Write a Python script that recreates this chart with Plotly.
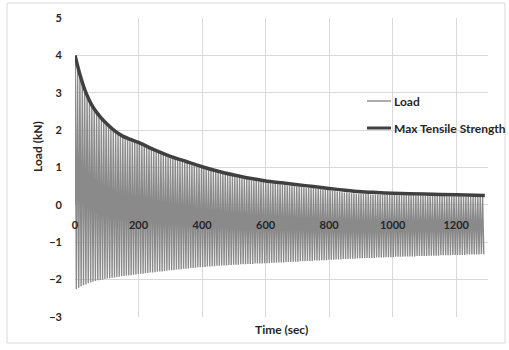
import plotly.graph_objects as go

# Cyclic loading test: per-cycle peak / trough loads (kN), one cycle every 7.5 s
CYCLE_SEC = 7.5

cycle_peak_kN = [
    3.98, 3.70, 3.46, 3.26, 3.07, 2.92, 2.77, 2.65, 2.54, 2.46,
    2.37, 2.29, 2.22, 2.16, 2.10, 2.04, 1.99, 1.94, 1.89, 1.85,
    1.81, 1.78, 1.75, 1.73, 1.70, 1.68, 1.65, 1.63, 1.60, 1.57,
    1.54, 1.51, 1.48, 1.45, 1.42, 1.40, 1.37, 1.34, 1.32, 1.29,
    1.27, 1.25, 1.23, 1.20, 1.18, 1.16, 1.14, 1.12, 1.10, 1.08,
    1.05, 1.03, 1.01, 0.99, 0.97, 0.95, 0.93, 0.91, 0.90, 0.88,
    0.86, 0.84, 0.83, 0.81, 0.80, 0.78, 0.77, 0.75, 0.74, 0.73,
    0.71, 0.70, 0.69, 0.67, 0.66, 0.65, 0.64, 0.63, 0.62, 0.61,
    0.60, 0.59, 0.58, 0.57, 0.56, 0.55, 0.55, 0.54, 0.53, 0.52,
    0.52, 0.51, 0.50, 0.49, 0.49, 0.48, 0.47, 0.46, 0.46, 0.45,
    0.45, 0.44, 0.43, 0.42, 0.42, 0.41, 0.40, 0.39, 0.38, 0.37,
    0.36, 0.35, 0.34, 0.33, 0.33, 0.32, 0.31, 0.31, 0.30, 0.30,
    0.30, 0.29, 0.29, 0.29, 0.28, 0.28, 0.28, 0.28, 0.27, 0.27,
    0.27, 0.27, 0.27, 0.27, 0.27, 0.26, 0.26, 0.26, 0.26, 0.26,
    0.26, 0.26, 0.26, 0.25, 0.25, 0.25, 0.25, 0.25, 0.25, 0.25,
    0.24, 0.24, 0.24, 0.24, 0.24, 0.24, 0.23, 0.23, 0.23, 0.23,
    0.23, 0.23, 0.23, 0.22, 0.22, 0.22, 0.22, 0.22, 0.21, 0.21,
    0.21, 0.21,
]

cycle_trough_kN = [
    -2.25, -2.22, -2.18, -2.15, -2.13, -2.10, -2.08, -2.06, -2.04, -2.02,
    -2.01, -2.00, -1.98, -1.97, -1.96, -1.95, -1.94, -1.93, -1.92, -1.91,
    -1.90, -1.89, -1.89, -1.88, -1.87, -1.86, -1.85, -1.84, -1.84, -1.83,
    -1.82, -1.81, -1.81, -1.80, -1.79, -1.78, -1.78, -1.77, -1.76, -1.75,
    -1.75, -1.74, -1.73, -1.73, -1.72, -1.71, -1.71, -1.70, -1.69, -1.69,
    -1.68, -1.67, -1.67, -1.66, -1.66, -1.65, -1.65, -1.64, -1.64, -1.63,
    -1.63, -1.62, -1.62, -1.62, -1.61, -1.61, -1.60, -1.60, -1.60, -1.59,
    -1.59, -1.59, -1.58, -1.58, -1.58, -1.57, -1.57, -1.57, -1.57, -1.56,
    -1.56, -1.56, -1.55, -1.55, -1.55, -1.54, -1.54, -1.54, -1.53, -1.53,
    -1.53, -1.52, -1.52, -1.52, -1.51, -1.51, -1.51, -1.50, -1.50, -1.50,
    -1.49, -1.49, -1.49, -1.48, -1.48, -1.48, -1.47, -1.47, -1.47, -1.46,
    -1.46, -1.46, -1.45, -1.45, -1.45, -1.44, -1.44, -1.44, -1.43, -1.43,
    -1.43, -1.43, -1.42, -1.42, -1.42, -1.42, -1.41, -1.41, -1.41, -1.41,
    -1.40, -1.40, -1.40, -1.40, -1.39, -1.39, -1.39, -1.39, -1.38, -1.38,
    -1.38, -1.38, -1.38, -1.37, -1.37, -1.37, -1.37, -1.37, -1.36, -1.36,
    -1.36, -1.36, -1.36, -1.35, -1.35, -1.35, -1.35, -1.35, -1.34, -1.34,
    -1.34, -1.34, -1.34, -1.34, -1.33, -1.33, -1.33, -1.33, -1.33, -1.33,
    -1.32, -1.32,
]

# Max tensile strength curve (kN) over time (s)
strength_time = [0, 15, 30, 45, 60, 80, 100, 125, 150, 175, 200, 250, 300,
                 350, 400, 450, 500, 550, 600, 650, 700, 750, 800, 850, 900,
                 950, 1000, 1100, 1200, 1290]
strength_kN = [4.00, 3.50, 3.10, 2.80, 2.57, 2.35, 2.17, 1.98, 1.84, 1.75,
               1.67, 1.47, 1.30, 1.16, 1.02, 0.90, 0.80, 0.71, 0.64, 0.59,
               0.54, 0.49, 0.44, 0.39, 0.35, 0.33, 0.31, 0.29, 0.27, 0.25]

x_ticks = [0, 200, 400, 600, 800, 1000, 1200]
y_ticks = [-3, -2, -1, 0, 1, 2, 3, 4, 5]

series_names = ["Load", "Max Tensile Strength"]
series_colors = ["#8a8a8a", "#404040"]
series_widths = [1.4, 3.5]

# Build the load trace: start at rest, then peak / trough for each cycle
load_t = [0.0]
load_v = [0.0]
for k, (pk, tr) in enumerate(zip(cycle_peak_kN, cycle_trough_kN)):
    load_t.append(k * CYCLE_SEC + 0.5)
    load_v.append(pk)
    load_t.append(k * CYCLE_SEC + 0.5 + CYCLE_SEC / 2)
    load_v.append(tr)

FONT = "Lato"
TEXT = "#262626"
GRID = "#d9d9d9"

# Plot-area geometry in pixels (used for paper-space placement)
W, H = 509, 350
ML, MR, MT, MB = 75, 21, 18, 33
PW, PH = W - ML - MR, H - MT - MB


def px_x(p):
    return (p - ML) / PW


def px_y(p):
    return (H - MB - p) / PH


fig = go.Figure()
fig.add_trace(go.Scatter(
    x=load_t, y=load_v, mode="lines", name=series_names[0],
    line=dict(color=series_colors[0], width=series_widths[0]),
))
fig.add_trace(go.Scatter(
    x=strength_time, y=strength_kN, mode="lines", name=series_names[1],
    line=dict(color=series_colors[1], width=series_widths[1],
              shape="spline", smoothing=0.6),
))

fig.update_layout(
    width=W, height=H, autosize=False,
    margin=dict(l=ML, r=MR, t=MT, b=MB),
    paper_bgcolor="white", plot_bgcolor="white",
    font=dict(family=FONT, size=11, color=TEXT),
    showlegend=False,
    xaxis=dict(
        range=[0, 1300], tickvals=x_ticks, showgrid=True, gridcolor=GRID,
        gridwidth=1, zeroline=False, showline=False, ticks="",
        anchor="free", position=3 / 8, ticklabelstandoff=12,
        tickfont=dict(family=FONT, size=11, color=TEXT, weight="bold"),
    ),
    yaxis=dict(
        range=[-3, 5], tickvals=y_ticks, showgrid=True, gridcolor=GRID,
        gridwidth=1, zeroline=False, showline=False, ticks="",
        ticklabelstandoff=12,
        tickfont=dict(family=FONT, size=11, color=TEXT, weight="bold"),
    ),
)

# Legend drawn inside the plot area
legend_rows = [101, 128]
for name, color, row, lw in zip(series_names, series_colors, legend_rows,
                                [1.4, 3.0]):
    fig.add_shape(
        type="line", xref="paper", yref="paper",
        x0=px_x(367), x1=px_x(391), y0=px_y(row), y1=px_y(row),
        line=dict(color=color, width=lw),
    )
    fig.add_annotation(
        text=name, xref="paper", yref="paper", x=px_x(392), y=px_y(row),
        xanchor="left", yanchor="middle", showarrow=False,
        font=dict(family=FONT, size=12, color=TEXT, weight="bold"),
    )

# Axis titles
fig.add_annotation(
    text="Time (sec)", xref="paper", yref="paper", x=0.5, y=px_y(329),
    xanchor="center", yanchor="middle", showarrow=False,
    font=dict(family=FONT, size=12, color=TEXT, weight="bold"),
)
fig.add_annotation(
    text="Load (kN)", xref="paper", yref="paper", x=px_x(37), y=px_y(147),
    xanchor="center", yanchor="middle", textangle=-90, showarrow=False,
    font=dict(family=FONT, size=12, color=TEXT, weight="bold"),
)

# Chart frame
fig.add_shape(
    type="rect", xref="paper", yref="paper",
    x0=px_x(7), x1=px_x(505), y0=px_y(343), y1=px_y(3),
    line=dict(color="#d9d9d9", width=1), fillcolor="rgba(0,0,0,0)",
    layer="below",
)

fig.write_html("out.html")
